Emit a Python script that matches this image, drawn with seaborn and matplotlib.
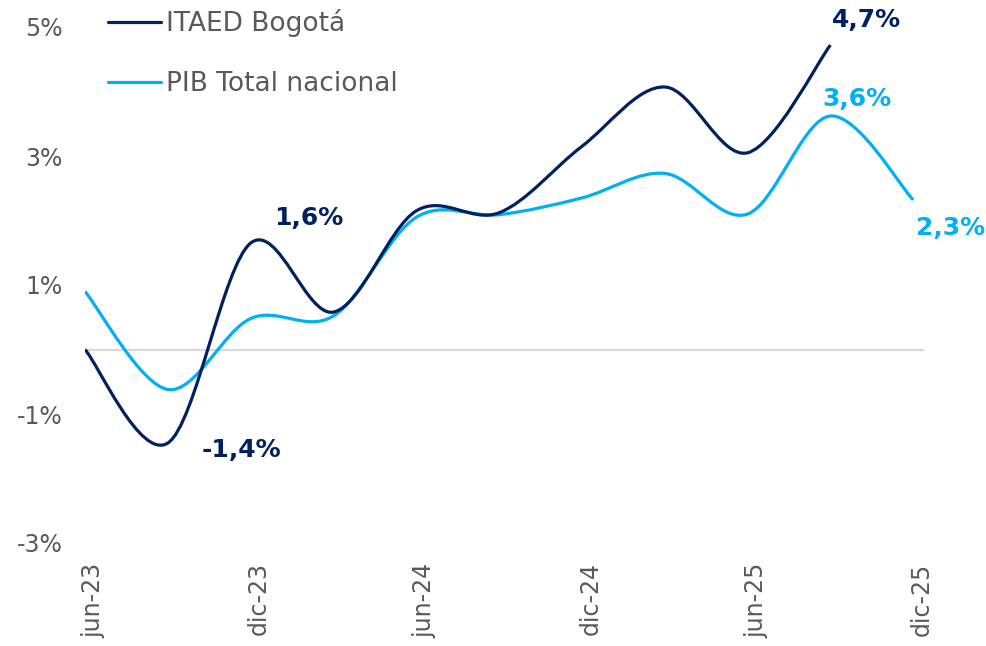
import matplotlib
matplotlib.use("Agg")
import matplotlib.pyplot as plt
import seaborn as sns
import numpy as np
from matplotlib.path import Path
from matplotlib.patches import PathPatch
from matplotlib.lines import Line2D
from matplotlib.transforms import ScaledTranslation

# quarterly periods, jun-23 .. dic-25
periods = ["jun-23", "sep-23", "dic-23", "mar-24", "jun-24", "sep-24",
           "dic-24", "mar-25", "jun-25", "sep-25", "dic-25"]
tick_labels = ["jun-23", "dic-23", "jun-24", "dic-24", "jun-25", "dic-25"]

# annual growth, %
itaed = [0.0, -1.45, 1.65, 0.58, 2.15, 2.12, 3.15, 4.07, 3.05, 4.72]
pib = [0.9, -0.62, 0.48, 0.52, 2.05, 2.09, 2.35, 2.73, 2.1, 3.62, 2.32]

navy = "#002060"
cyan = "#00B0F0"
grey = "#595959"


def smooth_path(xs, ys):
    # excel-like smoothed line: cubic bezier through every point
    pts = np.column_stack([xs, ys]).astype(float)
    n = len(pts)
    verts = [pts[0]]
    codes = [Path.MOVETO]
    for i in range(n - 1):
        p0 = pts[i - 1] if i > 0 else pts[i]
        p3 = pts[i + 2] if i + 2 < n else pts[i + 1]
        c1 = pts[i] + (pts[i + 1] - p0) / 6
        c2 = pts[i + 1] - (p3 - pts[i]) / 6
        verts += [c1, c2, pts[i + 1]]
        codes += [Path.CURVE4] * 3
    return Path(verts, codes)


sns.set_theme(style="white")
plt.rcParams["font.family"] = ["DejaVu Sans"]

fig = plt.figure(figsize=(9.87, 6.46), dpi=100)
ax = fig.add_axes([85 / 987, 1 - 543 / 646, (924 - 85) / 987, (543 - 27) / 646])

ax.axhline(0, color="#D9D9D9", linewidth=1.6, zorder=1)

for vals, col in [(pib, cyan), (itaed, navy)]:
    xs = np.arange(len(vals))
    ax.add_patch(PathPatch(smooth_path(xs, vals), facecolor="none",
                           edgecolor=col, linewidth=2.3, capstyle="butt", zorder=3))

ax.set_xlim(0, 10.13)
ax.set_ylim(-3, 5)
ax.set_yticks([-3, -1, 1, 3, 5])
ax.set_yticklabels(["-3%", "-1%", "1%", "3%", "5%"])
ax.set_xticks(np.arange(0, len(periods), 2))
ax.set_xticklabels(tick_labels, rotation=90)
ax.tick_params(axis="y", length=0, pad=16, labelsize=17, labelcolor=grey)
ax.tick_params(axis="x", length=0, pad=14, labelsize=17, labelcolor=grey)
# category labels sit a little right of their tick in the original
for t in ax.get_xticklabels():
    t.set_transform(t.get_transform() + ScaledTranslation(6 / 72, 0, fig.dpi_scale_trans))
sns.despine(ax=ax, left=True, bottom=True)

# data labels
lab = dict(fontsize=18, fontweight="bold", ha="center", va="center",
           textcoords="offset points")
ax.annotate("-1,4%", xy=(1, itaed[1]), xytext=(53, -5), color=navy, **lab)
ax.annotate("1,6%", xy=(2, itaed[2]), xytext=(42, 18), color=navy, **lab)
ax.annotate("4,7%", xy=(9, itaed[9]), xytext=(26, 18), color=navy, **lab)
ax.annotate("3,6%", xy=(9, pib[9]), xytext=(19, 12), color=cyan, **lab)
ax.annotate("2,3%", xy=(10, pib[10]), xytext=(27, -20), color=cyan, **lab)

handles = [Line2D([], [], color=navy, linewidth=2.3),
           Line2D([], [], color=cyan, linewidth=2.3)]
fig.legend(handles, ["ITAED Bogotá", "PIB Total nacional"],
           loc="upper left", bbox_to_anchor=(108 / 987, 1 - 9 / 646),
           frameon=False, fontsize=19, labelcolor=grey, handlelength=2.0,
           handletextpad=0.2, labelspacing=1.3, borderpad=0, borderaxespad=0)

fig.savefig("out.png", dpi=100)
